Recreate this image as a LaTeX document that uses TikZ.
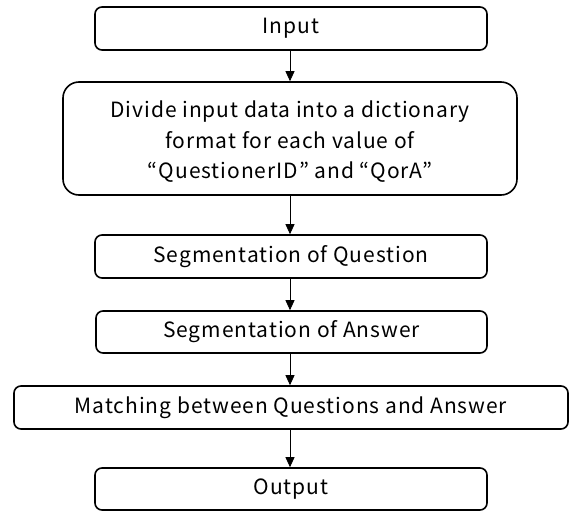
\documentclass[tikz,border=0pt]{standalone}
\usepackage{fontspec}
\setmainfont{Noto Sans CJK JP}[LetterSpace=4.5]
\usetikzlibrary{arrows.meta}
\begin{document}
\begin{tikzpicture}[x=1pt,y=-1pt,
  txt/.style={inner sep=0pt,font=\fontsize{21}{30.5}\selectfont,align=center},
  box/.style={draw,line width=1.6pt,rounded corners=7pt,minimum height=43pt,txt},
  arr/.style={line width=0.8pt,-{Triangle[length=10pt,width=9pt]}}]
\useasboundingbox (0,0) rectangle (574,512);
\node[box,minimum width=392pt] (in) at (291,28.5) {Input};
\node[box,minimum width=454pt,minimum height=113pt,rounded corners=16pt] (div) at (290,138.5) {};
\node[txt] (divtext) at (290,142) {Divide input data into a dictionary\\format for each value of\\“QuestionerID” and “QorA”};
\node[box,minimum width=392pt] (sq) at (291,256.5) {Segmentation of Question};
\node[box,minimum width=391pt,minimum height=42pt] (sa) at (291.5,332) {Segmentation of Answer};
\node[box,minimum width=554pt] (m) at (291,407.5) {Matching between Questions and Answer};
\node[box,minimum width=392pt,minimum height=42pt] (out) at (291,489) {Output};
\draw[arr] (in.south -| 290,0) -- (div.north -| 290,0);
\draw[arr] (div.south -| 290,0) -- (sq.north -| 290,0);
\draw[arr] (sq.south -| 290,0) -- (sa.north -| 290,0);
\draw[arr] (sa.south -| 290,0) -- (m.north -| 290,0);
\draw[arr] (m.south -| 290,0) -- (out.north -| 290,0);
\end{tikzpicture}
\end{document}
